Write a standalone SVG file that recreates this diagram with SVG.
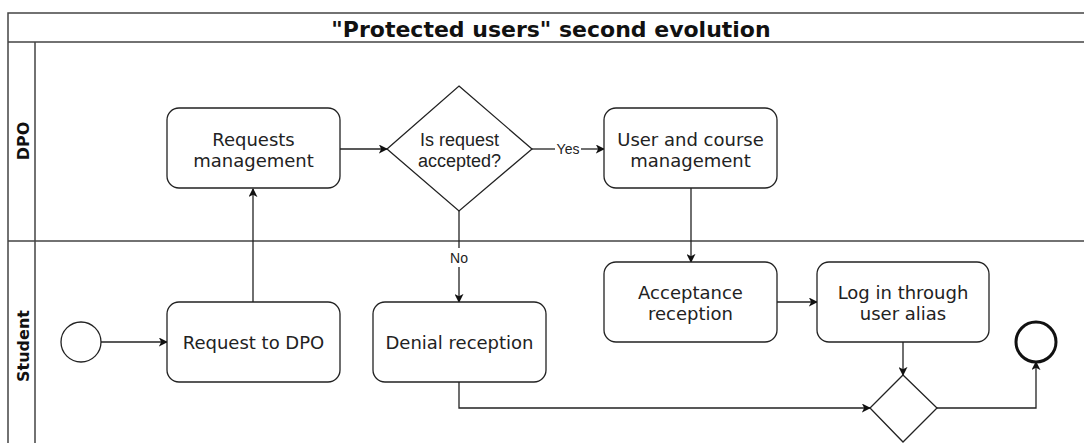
<svg xmlns="http://www.w3.org/2000/svg" width="1084" height="443" viewBox="0 0 1084 443">
<style>
.lane{fill:none;stroke:#444;stroke-width:1.5}
.task{fill:#fff;stroke:#222;stroke-width:1.3}
.gw{fill:#fff;stroke:#222;stroke-width:1.3}
.t{font-family:"DejaVu Sans",sans-serif;font-size:18px;fill:#222;text-anchor:middle}
.ta{font-family:"Liberation Sans",Arial,sans-serif;font-size:18px;fill:#222;text-anchor:middle}
.lbl{font-family:"Liberation Sans",Arial,sans-serif;font-size:14px;fill:#222;text-anchor:middle}
.lt{font-family:"DejaVu Sans",sans-serif;font-size:16px;font-weight:bold;fill:#111;text-anchor:middle}
.c{fill:none;stroke:#222;stroke-width:1.3;marker-end:url(#ah)}
</style>
<defs>
<marker id="ah" viewBox="0 0 10 10" refX="9" refY="5" markerWidth="9" markerHeight="9" markerUnits="userSpaceOnUse" orient="auto">
<path d="M0,0 L10,5 L0,10 L2.5,5 Z" fill="#111"/>
</marker>
</defs>
<rect width="1084" height="443" fill="#fff"/>
<g id="pool">
<path class="lane" d="M1090,13 H8 V450 M8,42 H1090 M35,42 V450 M8,241 H1090"/>
<text x="551" y="37" font-family="DejaVu Sans,sans-serif" font-size="22" font-weight="bold" fill="#111" text-anchor="middle">"Protected users" second evolution</text>
</g>
<g id="lane-dpo"><text class="lt" transform="translate(29,141) rotate(-90)">DPO</text></g>
<g id="lane-student"><text class="lt" transform="translate(29,346) rotate(-90)">Student</text></g>
<g id="connectors">
<path class="c" d="M101,342 H167"/>
<path class="c" d="M253,302 V189"/>
<path class="c" d="M340,149 H387"/>
<path fill="none" stroke="#222" stroke-width="1.3" d="M532,149 H555"/>
<path class="c" d="M581,149 H604"/>
<path fill="none" stroke="#222" stroke-width="1.3" d="M459,211 V248"/>
<path class="c" d="M459,267 V302"/>
<path class="c" d="M691,188 V262"/>
<path class="c" d="M777,302 H817"/>
<path class="c" d="M903,342 V375"/>
<path class="c" d="M459,382 V408 H870"/>
<path class="c" d="M937,408 H1036 V362"/>
<text class="lbl" x="568" y="154">Yes</text>
<text class="lbl" x="459" y="263">No</text>
</g>
<g id="start"><circle cx="81" cy="342" r="20" fill="#fff" stroke="#222" stroke-width="1.3"/></g>
<g id="request-to-dpo"><rect class="task" x="167" y="302" width="173" height="80" rx="12"/><text class="t" x="253.5" y="349">Request to DPO</text></g>
<g id="requests-management"><rect class="task" x="167" y="108" width="173" height="80" rx="12"/><text class="t" x="253.5" y="146">Requests</text><text class="t" x="253.5" y="167">management</text></g>
<g id="is-accepted"><polygon class="gw" points="459,86 532,149 459,211 387,149"/><text class="ta" x="459.5" y="146">Is request</text><text class="ta" x="459.5" y="167">accepted?</text></g>
<g id="user-course-management"><rect class="task" x="604" y="108" width="173" height="80" rx="12"/><text class="t" x="690.5" y="146">User and course</text><text class="t" x="690.5" y="167">management</text></g>
<g id="denial-reception"><rect class="task" x="373" y="302" width="173" height="80" rx="12"/><text class="t" x="459.5" y="349">Denial reception</text></g>
<g id="acceptance-reception"><rect class="task" x="604" y="262" width="173" height="80" rx="12"/><text class="t" x="690.5" y="299">Acceptance</text><text class="t" x="690.5" y="320">reception</text></g>
<g id="log-in"><rect class="task" x="817" y="262" width="172" height="80" rx="12"/><text class="t" x="903" y="299">Log in through</text><text class="t" x="903" y="320">user alias</text></g>
<g id="merge"><polygon class="gw" points="903,375 937,408 903,442 870,408"/></g>
<g id="end"><circle cx="1036" cy="342" r="20" fill="#fff" stroke="#111" stroke-width="3"/></g>
</svg>
